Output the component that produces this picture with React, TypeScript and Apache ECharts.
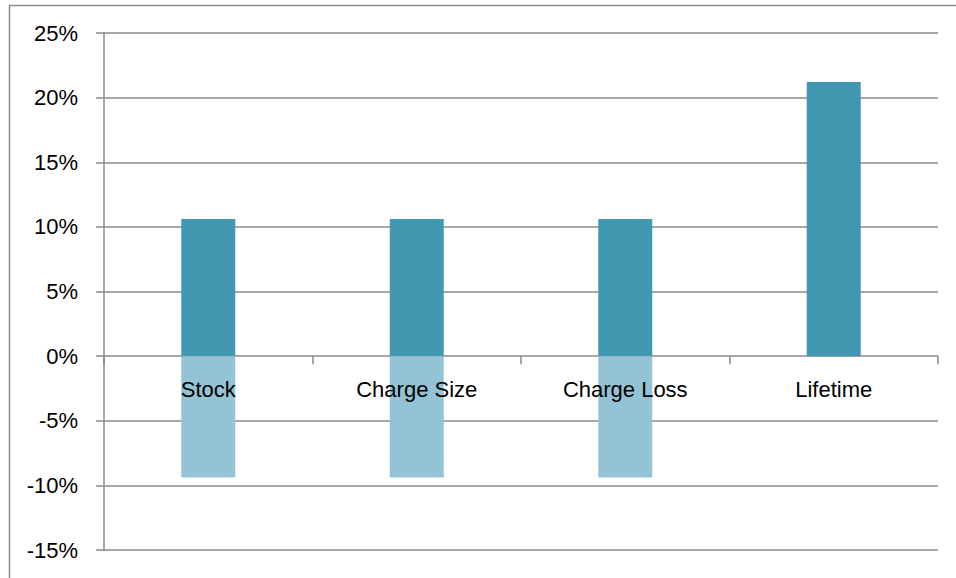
import React, { useEffect, useRef } from "react";
import * as echarts from "echarts";

const categories = ["Stock", "Charge Size", "Charge Loss", "Lifetime"];
const positiveValues = [10.6, 10.6, 10.6, 21.2];
const negativeValues: (number | null)[] = [-9.4, -9.4, -9.4, null];
const yMin = -15;
const yMax = 25;
const yStep = 5;

const FONT = "'Liberation Sans', Arial, sans-serif";
const GRID_COLOR = "#8a8a8a";

export default function App() {
  const ref = useRef<HTMLDivElement>(null);
  useEffect(() => {
    if (!ref.current) return;
    const chart = echarts.init(ref.current, undefined, { renderer: "svg" });
    chart.setOption({
      animation: false,
      backgroundColor: "#ffffff",
      graphic: [
        {
          type: "rect",
          left: 7,
          top: 3,
          shape: { x: 0, y: 0, width: 1200, height: 900 },
          style: { fill: "none", stroke: "#8c8c8c", lineWidth: 1.5 },
          silent: true,
        },
      ],
      grid: { left: 104, right: 18, top: 33, bottom: 28, containLabel: false, outerBoundsMode: "none" },
      xAxis: {
        type: "category",
        data: categories,
        z: 5,
        axisLine: { show: false, onZero: true },
        axisTick: { show: true, length: 8, inside: false, lineStyle: { color: GRID_COLOR, width: 1.5 } },
        axisLabel: { color: "#000", fontFamily: FONT, fontSize: 22, margin: -172 },
        splitLine: { show: false },
      },
      yAxis: {
        type: "value",
        min: yMin,
        max: yMax,
        interval: yStep,
        axisLine: { show: true, lineStyle: { color: GRID_COLOR, width: 1.5 } },
        axisTick: { show: true, length: 8, lineStyle: { color: GRID_COLOR, width: 1.5 } },
        axisLabel: { color: "#000", fontFamily: FONT, fontSize: 22, margin: 26, formatter: "{value}%" },
        splitLine: { show: true, lineStyle: { color: GRID_COLOR, width: 1.5 } },
      },
      series: [
        {
          type: "bar",
          name: "positive",
          stack: "total",
          data: positiveValues,
          barWidth: 54,
          itemStyle: { color: "#4298b0" },
        },
        {
          type: "bar",
          name: "negative",
          stack: "total",
          data: negativeValues,
          barWidth: 54,
          itemStyle: { color: "#93c3d4" },
        },
      ],
    });
    return () => chart.dispose();
  }, []);
  return (
    <div
      ref={ref}
      style={{ position: "absolute", left: 0, top: 0, width: 956, height: 578 }}
    />
  );
}
